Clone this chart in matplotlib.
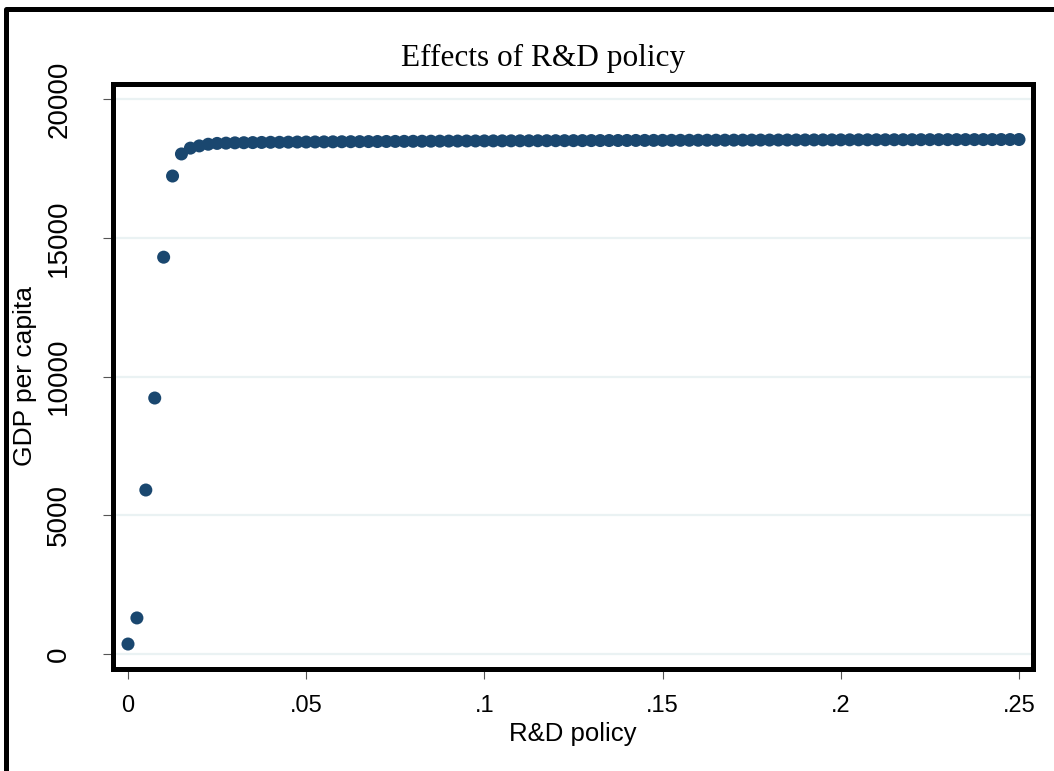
import numpy as np
import matplotlib.pyplot as plt
from matplotlib.patches import Rectangle

# ---- Data: R&D policy grid and resulting GDP per capita ----
rd_policy = [
    0.0000, 0.0025, 0.0050, 0.0075, 0.0100, 0.0125, 0.0150, 0.0175, 0.0200, 0.0225,
    0.0250, 0.0275, 0.0300, 0.0325, 0.0350, 0.0375, 0.0400, 0.0425, 0.0450, 0.0475,
    0.0500, 0.0525, 0.0550, 0.0575, 0.0600, 0.0625, 0.0650, 0.0675, 0.0700, 0.0725,
    0.0750, 0.0775, 0.0800, 0.0825, 0.0850, 0.0875, 0.0900, 0.0925, 0.0950, 0.0975,
    0.1000, 0.1025, 0.1050, 0.1075, 0.1100, 0.1125, 0.1150, 0.1175, 0.1200, 0.1225,
    0.1250, 0.1275, 0.1300, 0.1325, 0.1350, 0.1375, 0.1400, 0.1425, 0.1450, 0.1475,
    0.1500, 0.1525, 0.1550, 0.1575, 0.1600, 0.1625, 0.1650, 0.1675, 0.1700, 0.1725,
    0.1750, 0.1775, 0.1800, 0.1825, 0.1850, 0.1875, 0.1900, 0.1925, 0.1950, 0.1975,
    0.2000, 0.2025, 0.2050, 0.2075, 0.2100, 0.2125, 0.2150, 0.2175, 0.2200, 0.2225,
    0.2250, 0.2275, 0.2300, 0.2325, 0.2350, 0.2375, 0.2400, 0.2425, 0.2450, 0.2475,
    0.2500,
]
gdp_pc = [
    360, 1300, 5910, 9225, 14300, 17225, 18020, 18230, 18310, 18370,
    18400, 18410, 18420, 18425, 18430, 18435, 18440, 18440, 18445, 18450,
    18450, 18452, 18455, 18457, 18460, 18462, 18464, 18466, 18468, 18470,
    18472, 18474, 18476, 18478, 18480, 18482, 18484, 18485, 18487, 18488,
    18490, 18491, 18492, 18493, 18494, 18495, 18496, 18497, 18498, 18499,
    18500, 18501, 18502, 18503, 18504, 18505, 18506, 18507, 18508, 18509,
    18510, 18511, 18512, 18513, 18514, 18515, 18516, 18517, 18518, 18519,
    18520, 18521, 18521, 18522, 18523, 18524, 18525, 18526, 18527, 18527,
    18528, 18529, 18529, 18530, 18531, 18531, 18532, 18533, 18533, 18534,
    18535, 18535, 18536, 18536, 18537, 18537, 18538, 18538, 18539, 18539,
    18540,
]
x_ticks = [0, 0.05, 0.10, 0.15, 0.20, 0.25]
x_ticklabels = ["0", ".05", ".1", ".15", ".2", ".25"]
y_ticks = [0, 5000, 10000, 15000, 20000]

navy = "#1a476f"
grid_col = "#eaf2f3"

plt.rcParams['font.family'] = ['Liberation Sans', 'DejaVu Sans']

W, H = 1054, 771
fig = plt.figure(figsize=(W / 100, H / 100), dpi=100)
fig.patch.set_facecolor("white")

# plot region, in pixels from the top-left corner
L, R, T, B = 112.5, 1032.5, 83.5, 668.5
ax = fig.add_axes([L / W, 1 - B / H, (R - L) / W, (B - T) / H])

ax.scatter(rd_policy, gdp_pc, s=88, color=navy, edgecolors="none", zorder=3)

ax.set_xlim(-0.00435, 0.25379)
ax.set_ylim(-522, 20559)

ax.set_xticks(x_ticks)
ax.set_xticklabels(x_ticklabels)
ax.set_yticks(y_ticks)
for yt in y_ticks:
    ax.axhline(yt, color=grid_col, lw=1.6, zorder=1)

for sp in ax.spines.values():
    sp.set_linewidth(3.6)
    sp.set_color("black")

ax.tick_params(axis="both", direction="out", length=7, width=0.8,
               color="#555555")
ax.tick_params(axis="x", pad=12, labelsize=17)
ax.tick_params(axis="y", pad=22, labelsize=20)
for lab in ax.get_yticklabels():
    lab.set_rotation(90)
    lab.set_va("center")

ax.set_xlabel("R&D policy", fontsize=18.5, labelpad=4)
ax.set_ylabel("GDP per capita", fontsize=19, va="center")
ax.yaxis.set_label_coords((25 - L) / (R - L), 0.5)

fig.text(543 / W, 1 - 58 / H, "Effects of R&D policy", fontsize=22.5,
         family=["Liberation Serif", "DejaVu Serif"], ha="center", va="center")

# outer graph-region border (left and top edges visible)
fig.add_artist(Rectangle((5.5 / W, -0.2), 2, 1 - 8.5 / H + 0.2,
                         transform=fig.transFigure, fill=False, lw=3.6,
                         edgecolor="black", joinstyle="round", clip_on=False))

fig.savefig("out.png", dpi=100)
